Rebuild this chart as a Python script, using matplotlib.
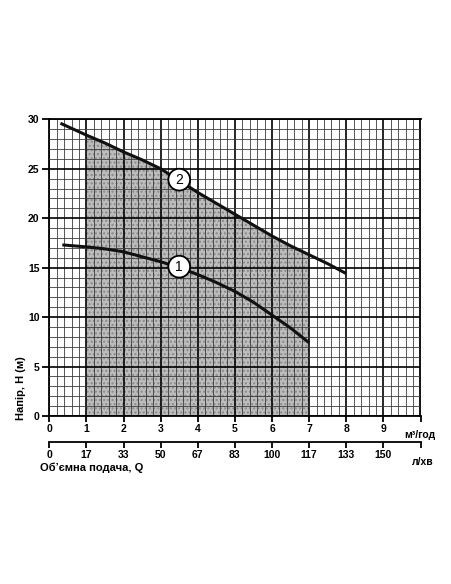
import matplotlib
matplotlib.use("Agg")
import matplotlib.pyplot as plt
from matplotlib.ticker import MultipleLocator

plt.rcParams['font.family'] = ['Liberation Sans', 'DejaVu Sans']

# pump curves, Q in m3/h, H in m
q_curve1 = [0.35, 1.0, 1.5, 2.0, 2.5, 3.0, 3.5, 4.0, 4.5, 5.0, 5.5, 6.0, 6.5, 7.0]
h_curve1 = [17.3, 17.1, 16.9, 16.6, 16.1, 15.6, 15.0, 14.3, 13.5, 12.6, 11.5, 10.2, 8.9, 7.4]

q_curve2 = [0.3, 1.0, 1.5, 2.0, 2.5, 3.0, 3.5, 4.0, 4.5, 5.0, 5.5, 6.0, 6.5, 7.0, 7.5, 8.0]
h_curve2 = [29.6, 28.4, 27.6, 26.7, 25.9, 25.0, 23.8, 22.6, 21.5, 20.4, 19.3, 18.2, 17.2, 16.3, 15.4, 14.4]

work_from = 1.0
work_to = 7.0

q_ticks = [0, 1, 2, 3, 4, 5, 6, 7, 8, 9]
lmin_labels = ['0', '17', '33', '50', '67', '83', '100', '117', '133', '150']
h_ticks = [0, 5, 10, 15, 20, 25, 30]

W, H = 452, 584
fig = plt.figure(figsize=(W / 100, H / 100), dpi=100)

left, right = 49.3 / W, 420.5 / W
top, bottom = 1 - 119.3 / H, 1 - 416.0 / H
ax = fig.add_axes([left, bottom, right - left, top - bottom])

ax.set_xlim(0, 10)
ax.set_ylim(0, 30)

# shaded working range under curve 2
fill_q = [q for q in q_curve2 if work_from <= q <= work_to]
fill_h = [h for q, h in zip(q_curve2, h_curve2) if work_from <= q <= work_to]
ax.fill_between(fill_q, 0, fill_h, facecolor='#bcbcbc', edgecolor='#8a8a8a',
                hatch='....', linewidth=0, zorder=1)

# grid
ax.xaxis.set_major_locator(MultipleLocator(1))
ax.xaxis.set_minor_locator(MultipleLocator(0.2))
ax.yaxis.set_major_locator(MultipleLocator(5))
ax.yaxis.set_minor_locator(MultipleLocator(1))
ax.grid(which='major', color='black', linewidth=1.2, zorder=2)
ax.grid(which='minor', color='#3a3a3a', linewidth=0.6, zorder=2)
ax.set_axisbelow(False)

ax.plot(q_curve1, h_curve1, color='#111111', linewidth=2.2, solid_capstyle='butt', zorder=4)
ax.plot(q_curve2, h_curve2, color='#111111', linewidth=2.2, solid_capstyle='butt', zorder=4)

circle = dict(boxstyle='circle,pad=0.28', facecolor='white', edgecolor='black', linewidth=1.3)
ax.text(3.5, 15.1, '1', fontsize=10, ha='center', va='center', bbox=circle, zorder=5)
ax.text(3.5, 23.9, '2', fontsize=10, ha='center', va='center', bbox=circle, zorder=5)

for s in ax.spines.values():
    s.set_linewidth(1.3)

ax.set_xticks(q_ticks + [10])
ax.set_xticklabels([str(q) for q in q_ticks] + [''])
ax.set_yticks(h_ticks)
ax.set_yticklabels([str(h) for h in h_ticks])
ax.tick_params(which='major', direction='out', length=4, width=1.3, labelsize=7.5, pad=2)
ax.tick_params(axis='y', length=5)
ax.tick_params(which='minor', length=0)
for lab in ax.get_xticklabels() + ax.get_yticklabels():
    lab.set_fontweight('bold')

# second scale in l/min
ax2 = fig.add_axes([left, 1 - 441.7 / H, right - left, 0.0001])
ax2.set_xlim(0, 10)
ax2.patch.set_visible(False)
for k in ['top', 'left', 'right']:
    ax2.spines[k].set_visible(False)
ax2.spines['bottom'].set_linewidth(1.3)
ax2.set_yticks([])
ax2.set_xticks(q_ticks + [10])
ax2.set_xticklabels(lmin_labels + [''])
ax2.tick_params(direction='out', length=4, width=1.3, labelsize=7.5, pad=2)
for lab in ax2.get_xticklabels():
    lab.set_fontweight('bold')

fig.text(404 / W, 1 - 435 / H, 'м³/год', fontsize=7.5, fontweight='bold', ha='left', va='center')
fig.text(412 / W, 1 - 462 / H, 'л/хв', fontsize=7.5, fontweight='bold', ha='left', va='center')
fig.text(40 / W, 1 - 468 / H, 'Об\u2019ємна подача, Q', fontsize=8, fontweight='bold',
         ha='left', va='center')
fig.text(21 / W, 1 - 388 / H, 'Напір, H (м)', fontsize=8, fontweight='bold',
         rotation=90, ha='center', va='center')

fig.savefig('out.png', dpi=100)
